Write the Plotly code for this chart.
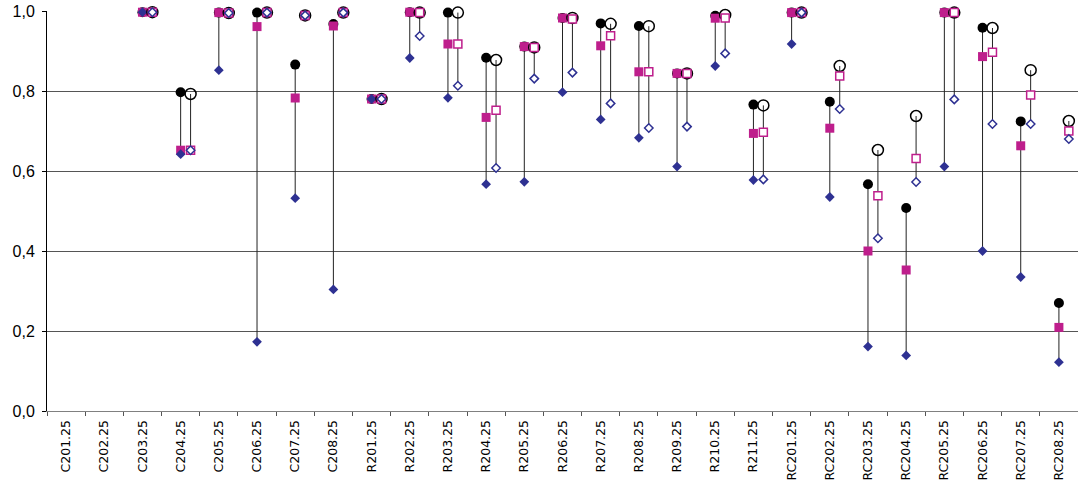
import plotly.graph_objects as go

categories = ["C201.25", "C202.25", "C203.25", "C204.25", "C205.25", "C206.25", "C207.25", "C208.25",
              "R201.25", "R202.25", "R203.25", "R204.25", "R205.25", "R206.25", "R207.25", "R208.25",
              "R209.25", "R210.25", "R211.25", "RC201.25", "RC202.25", "RC203.25", "RC204.25",
              "RC205.25", "RC206.25", "RC207.25", "RC208.25"]

# filled group (left)
f_diamond = [None, None, 0.997, 0.642, 0.852, 0.173, 0.532, 0.304, 0.780, 0.8825, 0.783, 0.567, 0.573,
             0.797, 0.729, 0.683, 0.611, 0.8625, 0.5775, 0.9175, 0.535, 0.161, 0.139, 0.611, 0.400,
             0.335, 0.122]
f_square = [None, None, 0.997, 0.652, 0.996, 0.961, 0.7825, 0.9625, 0.780, 0.997, 0.9175, 0.734, 0.911,
            0.9825, 0.913, 0.848, 0.844, 0.982, 0.694, 0.996, 0.707, 0.400, 0.3525, 0.996, 0.886,
            0.663, 0.209]
f_circle = [None, None, 0.997, 0.797, 0.996, 0.996, 0.866, 0.9675, 0.780, 0.997, 0.996, 0.883, 0.911,
            0.9825, 0.969, 0.9625, 0.844, 0.988, 0.766, 0.996, 0.773, 0.567, 0.5075, 0.996, 0.958,
            0.724, 0.270]

# hollow group (right)
h_diamond = [None, None, 0.997, 0.652, 0.995, 0.996, 0.989, 0.996, 0.780, 0.9375, 0.813, 0.6075, 0.831,
             0.846, 0.769, 0.7075, 0.711, 0.894, 0.579, 0.996, 0.755, 0.432, 0.5725, 0.779, 0.7175,
             0.7175, 0.680]
h_square = [None, None, 0.997, 0.652, 0.995, 0.996, 0.989, 0.996, 0.780, 0.996, 0.9175, 0.752, 0.909,
            0.980, 0.938, 0.848, 0.844, 0.9825, 0.697, 0.996, 0.8375, 0.538, 0.631, 0.996, 0.897,
            0.790, 0.700]
h_circle = [None, None, 0.997, 0.7925, 0.995, 0.996, 0.989, 0.996, 0.780, 0.996, 0.996, 0.8775, 0.909,
            0.9825, 0.968, 0.962, 0.844, 0.990, 0.764, 0.996, 0.8625, 0.6525, 0.7375, 0.996, 0.9575,
            0.852, 0.725]

y_ticks = [0.0, 0.2, 0.4, 0.6, 0.8, 1.0]

NAVY = "#2E3192"
MAGENTA = "#BE1E8C"
OFFSET = 0.26

n = len(categories)
xf = list(range(n))
xh = [i + OFFSET for i in range(n)]


def hl_lines(xs, a, b, c):
    lx, ly = [], []
    for x, v1, v2, v3 in zip(xs, a, b, c):
        vals = [v for v in (v1, v2, v3) if v is not None]
        if not vals:
            continue
        lx += [x, x, None]
        ly += [min(vals), max(vals), None]
    return lx, ly


fig = go.Figure()

for xs, a, b, c in ((xf, f_diamond, f_square, f_circle), (xh, h_diamond, h_square, h_circle)):
    lx, ly = hl_lines(xs, a, b, c)
    fig.add_trace(go.Scatter(x=lx, y=ly, mode="lines", line=dict(color="#222222", width=1),
                             hoverinfo="skip", showlegend=False, cliponaxis=False))

# filled group
fig.add_trace(go.Scatter(x=xf, y=f_circle, mode="markers", cliponaxis=False, showlegend=False,
                         marker=dict(symbol="circle", size=10, color="black", line=dict(width=0))))
fig.add_trace(go.Scatter(x=xf, y=f_square, mode="markers", cliponaxis=False, showlegend=False,
                         marker=dict(symbol="square", size=9, color=MAGENTA, line=dict(width=0))))
fig.add_trace(go.Scatter(x=xf, y=f_diamond, mode="markers", cliponaxis=False, showlegend=False,
                         marker=dict(symbol="diamond", size=7.5, color=NAVY, line=dict(width=0))))

# hollow group
fig.add_trace(go.Scatter(x=xh, y=h_circle, mode="markers", cliponaxis=False, showlegend=False,
                         marker=dict(symbol="circle-open", size=11, color="black",
                                     line=dict(width=1.5, color="black"))))
fig.add_trace(go.Scatter(x=xh, y=h_square, mode="markers", cliponaxis=False, showlegend=False,
                         marker=dict(symbol="square", size=8, color="white",
                                     line=dict(width=1.5, color=MAGENTA))))
fig.add_trace(go.Scatter(x=xh, y=h_diamond, mode="markers", cliponaxis=False, showlegend=False,
                         marker=dict(symbol="diamond", size=6.5, color="white",
                                     line=dict(width=1.5, color=NAVY))))

fig.update_layout(
    width=1078, height=484,
    margin=dict(l=47, r=0, t=11, b=73, autoexpand=False),
    plot_bgcolor="white", paper_bgcolor="white",
    separators=",.",
    hovermode=False,
    font=dict(family="Liberation Sans, Arial, sans-serif", color="black"),
    xaxis=dict(
        range=[-0.5, n - 0.5], automargin=False,
        tickmode="array", tickvals=list(range(n)), ticktext=categories,
        tickangle=-90, ticks="", showgrid=False, zeroline=False,
        showline=True, linecolor="#808080", linewidth=1,
        tickfont=dict(family="DejaVu Sans, sans-serif", size=12.5, color="black"),
        ticklabelstandoff=3, ticklabeloverflow="allow",
        minor=dict(tickmode="linear", tick0=-0.5, dtick=1, ticks="outside", ticklen=4,
                   tickcolor="#555555", tickwidth=1, showgrid=False),
    ),
    yaxis=dict(
        range=[0, 1.0], automargin=False,
        tickmode="array", tickvals=y_ticks, tickformat=".1f",
        ticks="outside", ticklen=4, tickcolor="black",
        showline=True, linecolor="black", linewidth=1,
        showgrid=True, gridcolor="#555555", gridwidth=1,
        zeroline=False,
        tickfont=dict(size=16, color="black"),
        ticklabelstandoff=4, ticklabeloverflow="allow",
    ),
)

fig.write_html("out.html",
               config={"displayModeBar": False, "staticPlot": True},
               post_script="document.body.style.margin='0';document.body.style.overflow='hidden';")
